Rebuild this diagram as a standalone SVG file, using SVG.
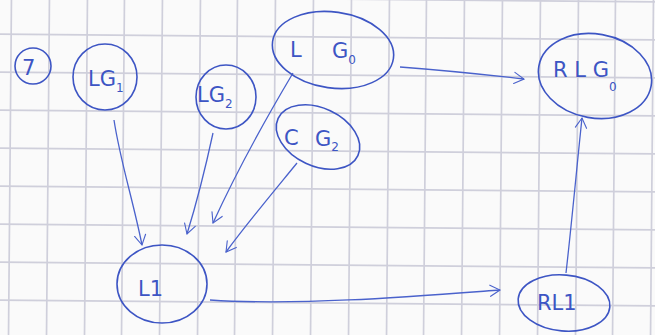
<svg xmlns="http://www.w3.org/2000/svg" width="655" height="335" viewBox="0 0 655 335">
<style>
.grid{stroke:#cfcfdb;stroke-width:1.7;fill:none}
.ink{stroke:#3d55c4;stroke-width:1.6;fill:none;stroke-linecap:round}
.lbl{fill:#3d55c4;font-family:"DejaVu Sans",sans-serif;font-size:21px}
.sub{font-size:12px}
.edge{stroke:#4a62cc;stroke-width:1.3;fill:none;marker-end:url(#ah)}
</style>
<defs>
<marker id="ah" viewBox="0 0 20 20" refX="18" refY="10" markerWidth="14" markerHeight="14" markerUnits="userSpaceOnUse" orient="auto">
<path d="M4,2 L18,10 L4,18" fill="none" stroke="#4a62cc" stroke-width="1.6" stroke-linecap="round"/>
</marker>
</defs>
<rect width="655" height="335" fill="#fafafa"/>
<g id="grid" class="grid" transform="rotate(0.5 327 167)">
<path d="M10,-10V345M48,-10V345M86,-10V345M123,-10V345M161,-10V345M199,-10V345M236,-10V345M274,-10V345M312,-10V345M350,-10V345M388,-10V345M425,-10V345M463,-10V345M501,-10V345M539,-10V345M577,-10V345M614,-10V345M652,-10V345"/>
<path d="M-10,-1H665M-10,37H665M-10,75H665M-10,113H665M-10,151H665M-10,189H665M-10,227H665M-10,265H665M-10,303H665"/>
</g>
<g id="connectors">
<path class="edge" d="M114,120 C120,160 133,200 142,245"/>
<path class="edge" d="M213,133 C205,170 196,205 187,234"/>
<path class="edge" d="M293,73 C265,120 235,175 213,223"/>
<path class="edge" d="M297,163 C275,190 248,222 226,252"/>
<path class="edge" d="M400,67 C440,70 480,74 524,79"/>
<path class="edge" d="M210,300 C300,306 420,296 500,290"/>
<path class="edge" d="M566,273 C572,220 577,165 582,118"/>
</g>
<g id="n-top">
<circle class="ink" cx="33" cy="66" r="18"/>
<text class="lbl" x="22" y="75" font-size="20">7</text>
</g>
<g id="n-lg1">
<ellipse class="ink" cx="105" cy="77" rx="32" ry="33"/>
<text class="lbl" x="88" y="86">LG<tspan class="sub" dy="6">1</tspan></text>
</g>
<g id="n-lg2">
<ellipse class="ink" cx="226" cy="97" rx="30" ry="32"/>
<text class="lbl" x="197" y="102" font-size="16">LG<tspan class="sub" dy="6">2</tspan></text>
</g>
<g id="n-lg0">
<ellipse class="ink" cx="333" cy="50" rx="61" ry="38" transform="rotate(8 333 50)"/>
<text class="lbl" x="290" y="57" font-size="23">L</text>
<text class="lbl" x="332" y="58" font-size="23">G<tspan class="sub" dy="6">0</tspan></text>
</g>
<g id="n-cg2">
<ellipse class="ink" cx="318" cy="137" rx="44" ry="29" transform="rotate(25 318 137)"/>
<text class="lbl" x="284" y="145" font-size="25">C</text>
<text class="lbl" x="315" y="146" font-size="16">G<tspan class="sub" dy="5">2</tspan></text>
</g>
<g id="n-rlg0">
<ellipse class="ink" cx="595" cy="76" rx="57" ry="42" transform="rotate(10 595 76)"/>
<text class="lbl" x="553" y="77" font-size="22">R L G<tspan class="sub" dy="14">0</tspan></text>
</g>
<g id="n-l1">
<ellipse class="ink" cx="162" cy="284" rx="45" ry="39"/>
<text class="lbl" x="138" y="296">L1</text>
</g>
<g id="n-rl1">
<ellipse class="ink" cx="564" cy="303" rx="46" ry="28" transform="rotate(5 564 303)"/>
<text class="lbl" x="537" y="310" font-size="20">RL1</text>
</g>
</svg>
